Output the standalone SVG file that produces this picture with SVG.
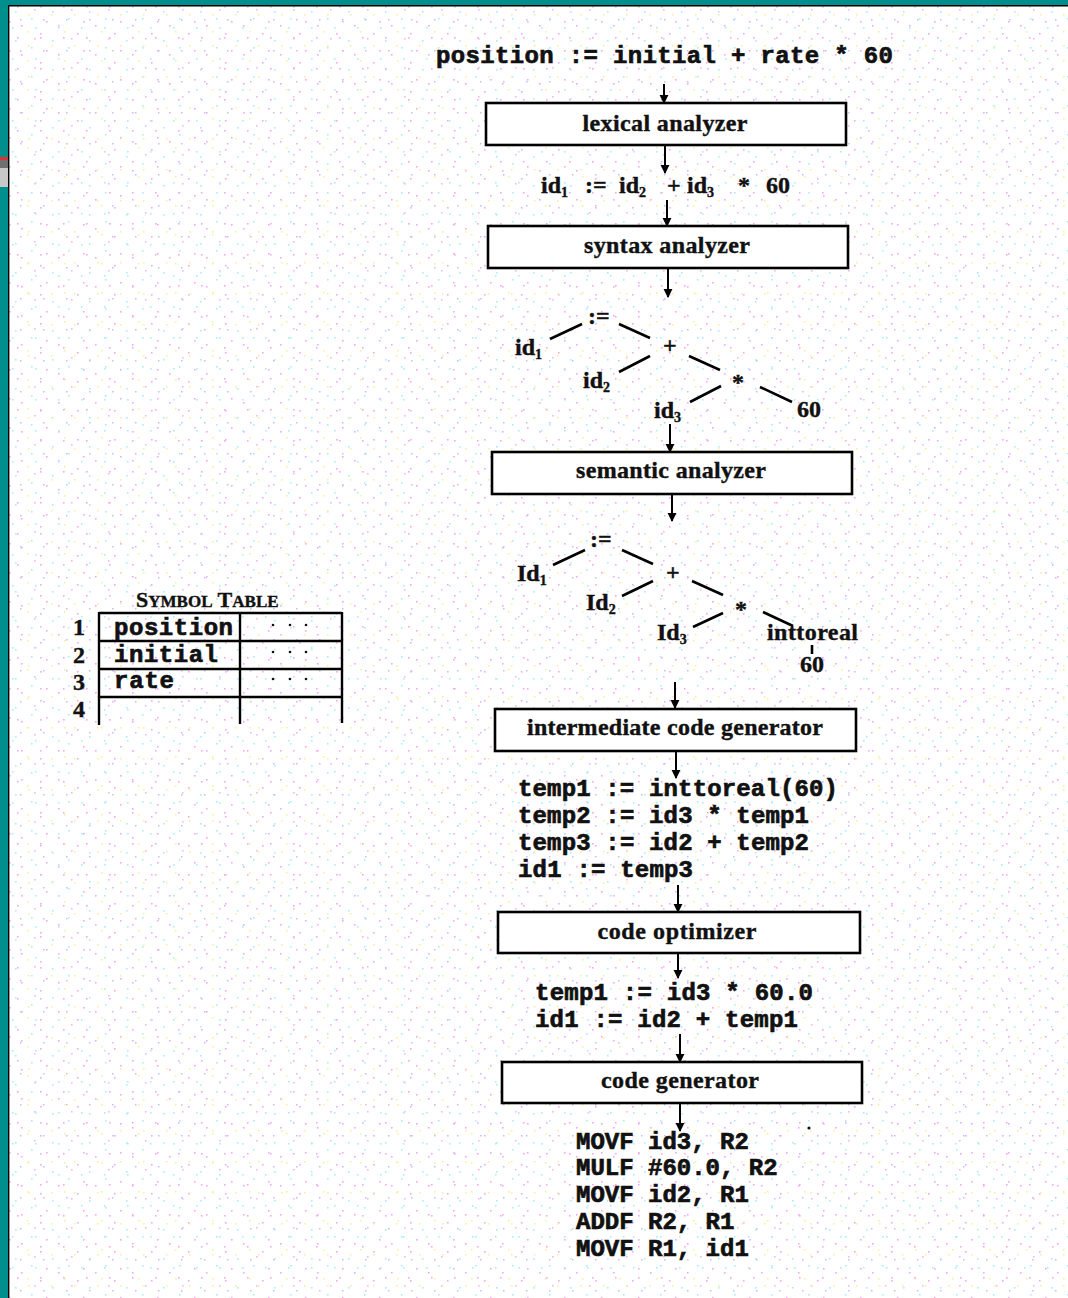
<svg xmlns="http://www.w3.org/2000/svg" width="1068" height="1298" viewBox="0 0 1068 1298">
<style>
.box{fill:#fff;stroke:#000;stroke-width:2.6}
.lbl{font-family:"Liberation Serif",serif;font-weight:bold;font-size:24px;fill:#111;text-anchor:middle;stroke:#111;stroke-width:0.4}
.ser{font-family:"Liberation Serif",serif;font-weight:bold;font-size:24px;fill:#111;stroke:#111;stroke-width:0.4}
.sub{font-size:14px}
.mono{font-family:"Liberation Mono",monospace;font-weight:bold;font-size:24px;fill:#111;stroke:#111;stroke-width:0.7}
.arr{stroke:#000;stroke-width:2;fill:none;marker-end:url(#ah)}
.tl{stroke:#000;stroke-width:2.6}
</style>
<defs>
<marker id="ah" viewBox="0 0 10 10" refX="9" refY="5" markerWidth="4.5" markerHeight="5" orient="auto" markerUnits="strokeWidth">
<path d="M0,0 L10,5 L0,10 z" fill="#000"/>
</marker>
<pattern id="sp1" width="37" height="29" patternUnits="userSpaceOnUse">
<rect x="3" y="4" width="1.6" height="1.6" fill="#f6a8f6"/>
<rect x="15" y="11" width="1.6" height="1.6" fill="#a8eef8"/>
<rect x="27" y="2" width="1.6" height="1.6" fill="#f8f0a0"/>
<rect x="9" y="21" width="1.6" height="1.6" fill="#f6a8f6"/>
<rect x="31" y="18" width="1.6" height="1.6" fill="#a8eef8"/>
<rect x="21" y="25" width="1.6" height="1.6" fill="#f6a8f6"/>
<rect x="34" y="9" width="1.6" height="1.6" fill="#f6b8f0"/>
</pattern>
<pattern id="sp2" width="23" height="31" patternUnits="userSpaceOnUse">
<rect x="5" y="14" width="1.6" height="1.6" fill="#f8f0a0"/>
<rect x="17" y="6" width="1.6" height="1.6" fill="#f6a8f6"/>
<rect x="12" y="27" width="1.6" height="1.6" fill="#a8eef8"/>
<rect x="20" y="19" width="1.5" height="1.5" fill="#c0c0f4"/>
</pattern>
</defs>
<rect width="1068" height="1298" fill="#fff"/>
<rect width="1068" height="1298" fill="url(#sp1)"/>
<rect width="1068" height="1298" fill="url(#sp2)"/>
<g id="frame">
<rect x="0" y="0" width="1068" height="5" fill="#008f8c"/>
<rect x="0" y="0" width="8" height="1298" fill="#008f8c"/>
<rect x="0" y="157" width="8" height="3" fill="#e03030"/>
<rect x="0" y="160" width="8" height="27" fill="#c8c8c8"/>
<rect x="0" y="160" width="8" height="8" fill="#707070"/>
<line x1="8.7" y1="5" x2="8.7" y2="1298" stroke="#000" stroke-width="1.4"/>
<line x1="8" y1="5.7" x2="1068" y2="5.7" stroke="#000" stroke-width="1.4"/>
</g>
<g id="connectors">
<line class="arr" x1="664" y1="84" x2="664" y2="103"/>
<line class="arr" x1="665" y1="145" x2="665" y2="173"/>
<line class="arr" x1="667" y1="200" x2="667" y2="226"/>
<line class="arr" x1="668" y1="268" x2="668" y2="297"/>
<line class="arr" x1="670" y1="424" x2="670" y2="452"/>
<line class="arr" x1="672" y1="494" x2="672" y2="521"/>
<line class="arr" x1="675" y1="682" x2="675" y2="708"/>
<line class="arr" x1="676" y1="752" x2="676" y2="778"/>
<line class="arr" x1="678" y1="885" x2="678" y2="912"/>
<line class="arr" x1="678" y1="953" x2="678" y2="978"/>
<line class="arr" x1="680" y1="1034" x2="680" y2="1062"/>
<line class="arr" x1="680" y1="1103" x2="680" y2="1131"/>
</g>
<g id="source">
<text class="mono" x="436" y="63" textLength="457">position := initial + rate * 60</text>
</g>
<g id="lexical">
<rect class="box" x="486" y="103" width="360" height="42"/>
<text class="lbl" x="665" y="131" textLength="165">lexical analyzer</text>
</g>
<g id="tokens">
<text class="ser" y="193"><tspan x="541">id</tspan><tspan class="sub" dy="4">1</tspan><tspan x="585" dy="-4">:=</tspan><tspan x="619">id</tspan><tspan class="sub" dy="4">2</tspan><tspan x="667" dy="-4">+</tspan><tspan x="687">id</tspan><tspan class="sub" dy="4">3</tspan><tspan x="738" dy="-4">*</tspan><tspan x="766">60</tspan></text>
</g>
<g id="syntax">
<rect class="box" x="488" y="226" width="360" height="42"/>
<text class="lbl" x="667" y="253" textLength="166">syntax analyzer</text>
</g>
<g id="tree1">
<text class="ser" x="588" y="324" font-size="19">:=</text>
<text class="ser" x="663" y="353" font-size="19">+</text>
<text class="ser" x="732" y="390" font-size="22">*</text>
<text class="ser" y="355"><tspan x="515">id</tspan><tspan class="sub" dy="4">1</tspan></text>
<text class="ser" y="388"><tspan x="583">id</tspan><tspan class="sub" dy="4">2</tspan></text>
<text class="ser" y="418"><tspan x="654">id</tspan><tspan class="sub" dy="4">3</tspan></text>
<text class="ser" x="797" y="417">60</text>
<line class="tl" x1="550" y1="339" x2="582" y2="324"/>
<line class="tl" x1="619" y1="324" x2="650" y2="338"/>
<line class="tl" x1="619" y1="372" x2="650" y2="356"/>
<line class="tl" x1="689" y1="356" x2="720" y2="370"/>
<line class="tl" x1="690" y1="402" x2="721" y2="386"/>
<line class="tl" x1="760" y1="387" x2="792" y2="402"/>
</g>
<g id="semantic">
<rect class="box" x="492" y="452" width="360" height="42"/>
<text class="lbl" x="671" y="478" textLength="190">semantic analyzer</text>
</g>
<g id="tree2">
<text class="ser" x="590" y="547" font-size="19">:=</text>
<text class="ser" x="666" y="580" font-size="19">+</text>
<text class="ser" x="735" y="617" font-size="22">*</text>
<text class="ser" y="581"><tspan x="517">Id</tspan><tspan class="sub" dy="4">1</tspan></text>
<text class="ser" y="610"><tspan x="586">Id</tspan><tspan class="sub" dy="4">2</tspan></text>
<text class="ser" y="640"><tspan x="657">Id</tspan><tspan class="sub" dy="4">3</tspan></text>
<text class="ser" x="767" y="640" textLength="91">inttoreal</text>
<line class="tl" x1="812" y1="645" x2="812" y2="654" stroke-width="2"/>
<text class="ser" x="800" y="672">60</text>
<line class="tl" x1="553" y1="565" x2="585" y2="550"/>
<line class="tl" x1="622" y1="550" x2="653" y2="564"/>
<line class="tl" x1="622" y1="596" x2="653" y2="581"/>
<line class="tl" x1="692" y1="581" x2="723" y2="595"/>
<line class="tl" x1="693" y1="627" x2="723" y2="613"/>
<line class="tl" x1="763" y1="612" x2="793" y2="626"/>
</g>
<g id="intermediate">
<rect class="box" x="495" y="709" width="361" height="42"/>
<text class="lbl" x="675" y="735" textLength="296">intermediate code generator</text>
</g>
<g id="ircode">
<text class="mono" x="518" y="796" textLength="320">temp1 := inttoreal(60)</text>
<text class="mono" x="518" y="823" textLength="291">temp2 := id3 * temp1</text>
<text class="mono" x="518" y="850" textLength="291">temp3 := id2 + temp2</text>
<text class="mono" x="518" y="877" textLength="175">id1 := temp3</text>
</g>
<g id="optimizer">
<rect class="box" x="498" y="912" width="362" height="41"/>
<text class="lbl" x="677" y="939" textLength="159">code optimizer</text>
</g>
<g id="optcode">
<text class="mono" x="535" y="1000" textLength="278">temp1 := id3 * 60.0</text>
<text class="mono" x="535" y="1027" textLength="263">id1 := id2 + temp1</text>
</g>
<g id="codegen">
<rect class="box" x="502" y="1062" width="360" height="41"/>
<text class="lbl" x="680" y="1088" textLength="158">code generator</text>
</g>
<g id="target">
<circle cx="809" cy="1128" r="1.6" fill="#111"/>
<text class="mono" x="576" y="1149">MOVF id3, R2</text>
<text class="mono" x="576" y="1175">MULF #60.0, R2</text>
<text class="mono" x="576" y="1202">MOVF id2, R1</text>
<text class="mono" x="576" y="1229">ADDF R2, R1</text>
<text class="mono" x="576" y="1256">MOVF R1, id1</text>
</g>
<g id="symtable">
<text class="ser" x="136" y="607"><tspan font-size="22">S</tspan><tspan font-size="17">YMBOL</tspan><tspan font-size="22"> T</tspan><tspan font-size="17">ABLE</tspan></text>
<g stroke="#000" stroke-width="2.4" fill="none">
<line x1="99" y1="613" x2="342" y2="613"/>
<line x1="99" y1="641" x2="342" y2="641"/>
<line x1="99" y1="669" x2="342" y2="669"/>
<line x1="99" y1="697" x2="342" y2="697"/>
<line x1="99" y1="612" x2="99" y2="725"/>
<line x1="240" y1="612" x2="240" y2="724"/>
<line x1="342" y1="612" x2="342" y2="723"/>
</g>
<text class="ser" x="73" y="635" font-size="18">1</text>
<text class="ser" x="73" y="663" font-size="18">2</text>
<text class="ser" x="73" y="690" font-size="18">3</text>
<text class="ser" x="73" y="717" font-size="18">4</text>
<text class="mono" x="114" y="635" textLength="119">position</text>
<text class="mono" x="114" y="662" textLength="104">initial</text>
<text class="mono" x="114" y="688" textLength="60">rate</text>
<g fill="#111">
<circle cx="273" cy="625" r="1.3"/><circle cx="290" cy="625" r="1.3"/><circle cx="306" cy="625" r="1.3"/>
<circle cx="273" cy="652" r="1.3"/><circle cx="290" cy="652" r="1.3"/><circle cx="306" cy="652" r="1.3"/>
<circle cx="273" cy="679" r="1.3"/><circle cx="290" cy="679" r="1.3"/><circle cx="306" cy="679" r="1.3"/>
</g>
</g>
</svg>
